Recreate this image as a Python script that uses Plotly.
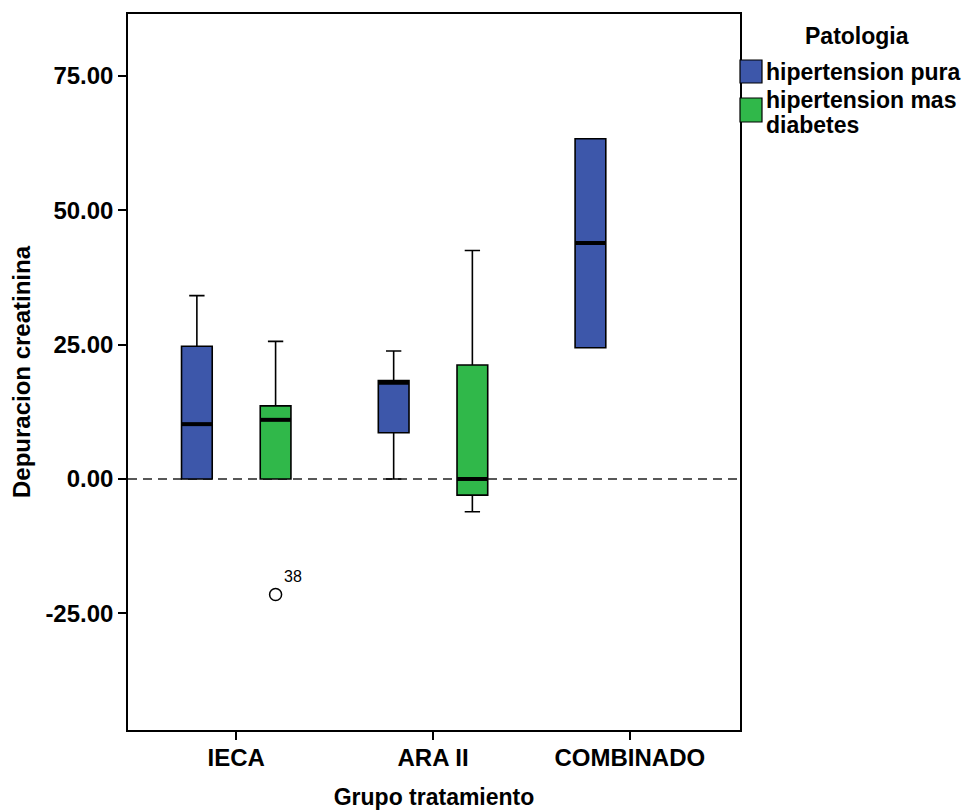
import plotly.graph_objects as go

# ---- data ----
categories = ["IECA", "ARA II", "COMBINADO"]
series_names = ["hipertension pura", "hipertension mas<br>diabetes"]
legend_title = "Patologia"

# hipertension pura (IECA, ARA II, COMBINADO)
pura_q1 = [0.0, 8.6, 24.4]
pura_median = [10.2, 17.9, 43.9]
pura_q3 = [24.7, 18.3, 63.3]
pura_low = [0.0, 0.0, 24.4]
pura_high = [34.1, 23.8, 63.3]

# hipertension mas diabetes (IECA, ARA II)
diab_q1 = [0.0, -3.0]
diab_median = [11.0, 0.0]
diab_q3 = [13.6, 21.2]
diab_low = [0.0, -6.1]
diab_high = [25.6, 42.5]

# outlier (IECA, hipertension mas diabetes)
outlier_value = [-21.5]
outlier_label = ["38"]

y_ticks = [-25, 0, 25, 50, 75]
y_tick_labels = [f"{v:.2f}" for v in y_ticks]

colors = ["#3D57AA", "#30B84A"]

# ---- layout constants ----
BOXGAP = 0.2
BOXGROUPGAP = 0.61
n_series = 2
slot = (1 - BOXGAP) / n_series
offsets = [-(1 - BOXGAP) / 2 + slot * (i + 0.5) for i in range(n_series)]
half_w = slot * (1 - BOXGROUPGAP) / 2

FONT = "Liberation Sans"
W, H = 966, 802          # page body adds an 8px margin
ML, MR, MT, MB = 120, 234, 6, 80
PW, PH = W - ML - MR, H - MT - MB


def px_x(px):  # figure pixel -> paper x
    return (px - ML) / PW


def px_y(py):  # figure pixel -> paper y
    return (H - MB - py) / PH


fig = go.Figure()

series = [
    (list(range(len(pura_q1))), pura_q1, pura_median, pura_q3, pura_low, pura_high),
    (list(range(len(diab_q1))), diab_q1, diab_median, diab_q3, diab_low, diab_high),
]

for i, (xs, q1, med, q3, lo, hi) in enumerate(series):
    fig.add_trace(go.Box(
        x=xs, q1=q1, median=med, q3=q3, lowerfence=lo, upperfence=hi,
        name=series_names[i].replace("<br>", " "), fillcolor=colors[i],
        line=dict(color="black", width=1.6),
        whiskerwidth=0.5, boxpoints=False, showlegend=False,
        hoverinfo="skip", offsetgroup=str(i),
    ))
    # thick median lines
    for x, m in zip(xs, med):
        fig.add_shape(type="line", xref="x", yref="y",
                      x0=x + offsets[i] - half_w, x1=x + offsets[i] + half_w,
                      y0=m, y1=m, line=dict(color="black", width=4), layer="above")

# outlier
fig.add_trace(go.Scatter(
    x=[0 + offsets[1]], y=outlier_value, mode="markers+text",
    text=outlier_label, textposition="top right",
    textfont=dict(family=FONT, size=16, color="black"),
    marker=dict(symbol="circle-open", size=12, color="black", line=dict(width=1.5)),
    showlegend=False, hoverinfo="skip",
))

# dashed zero reference line
fig.add_shape(type="line", xref="paper", yref="y", x0=0, x1=1, y0=0, y1=0,
              line=dict(color="#222222", width=1.5, dash="9px,6px"), layer="below")

# ---- manual legend (SPSS style) ----
LEG_FONT = dict(family=FONT, size=23, weight="bold", color="black")
fig.add_annotation(xref="paper", yref="paper", x=px_x(849), y=px_y(28),
                   text=legend_title, showarrow=False, xanchor="center", yanchor="middle",
                   font=LEG_FONT)
swatch_rows = [(52, 75), (90, 114)]
text_rows = [[64], [92, 117]]
for i, name in enumerate(series_names):
    y_top, y_bot = swatch_rows[i]
    fig.add_shape(type="rect", xref="paper", yref="paper",
                  x0=px_x(732), x1=px_x(754), y0=px_y(y_bot), y1=px_y(y_top),
                  fillcolor=colors[i], line=dict(color="black", width=1.2))
    for line_text, ty in zip(name.split("<br>"), text_rows[i]):
        fig.add_annotation(xref="paper", yref="paper", x=px_x(756), y=px_y(ty),
                           text=line_text, showarrow=False, xanchor="left", yanchor="middle",
                           font=LEG_FONT)

fig.update_layout(
    width=W, height=H,
    margin=dict(l=ML, r=MR, t=MT, b=MB),
    plot_bgcolor="white", paper_bgcolor="white",
    boxmode="group", boxgap=BOXGAP, boxgroupgap=BOXGROUPGAP,
    font=dict(family=FONT, color="black"),
    showlegend=False,
    xaxis=dict(
        range=[-0.55, 2.56], tickmode="array", tickvals=list(range(len(categories))),
        ticktext=categories, showgrid=False, zeroline=False, automargin=False,
        showline=True, linecolor="black", linewidth=1.5, mirror=True,
        ticks="outside", ticklen=8, tickwidth=1.5, tickcolor="black",
        ticklabelstandoff=-3,
        tickfont=dict(family=FONT, size=24, weight="bold"),
        title=dict(text="Grupo tratamiento", font=dict(family=FONT, size=23, weight="bold"), standoff=20),
    ),
    yaxis=dict(
        range=[-46.7, 86.5], tickmode="array", tickvals=y_ticks, ticktext=y_tick_labels,
        showgrid=False, zeroline=False, automargin=False,
        showline=True, linecolor="black", linewidth=1.5, mirror=True,
        ticks="outside", ticklen=8, tickwidth=1.5, tickcolor="black",
        tickfont=dict(family=FONT, size=24, weight="bold"),
        title=dict(text="Depuracion creatinina", font=dict(family=FONT, size=24, weight="bold"), standoff=13),
    ),
)

fig.write_html("out.html")
